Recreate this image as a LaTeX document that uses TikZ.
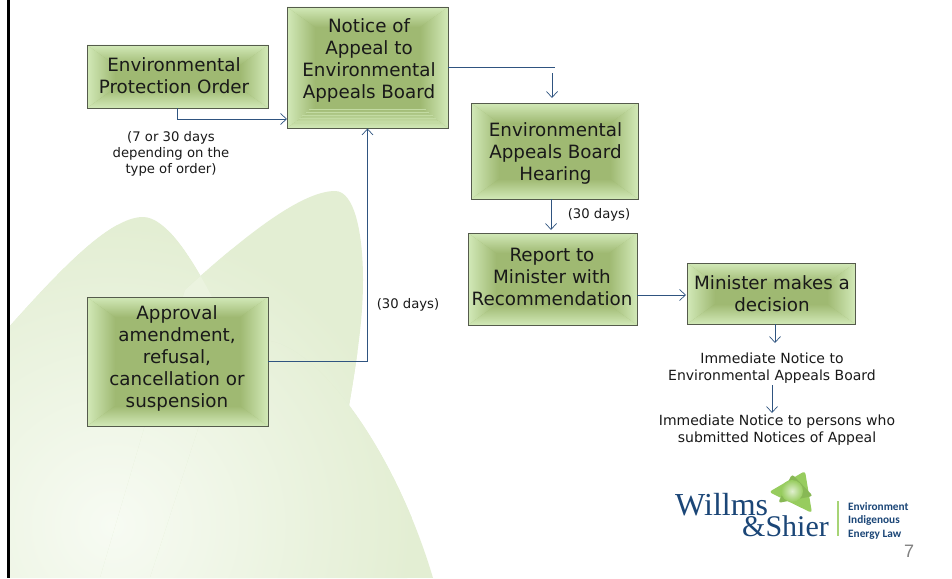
\documentclass[tikz,border=0pt]{standalone}
\usepackage{fontspec}
\setmainfont{DejaVu Sans}
\newfontfamily\logoserif{Liberation Serif}
\newfontfamily\logosans{Carlito}
\newfontfamily\numfont{Liberation Sans}
\usetikzlibrary{arrows.meta,calc}
\definecolor{boxmid}{HTML}{9FB972}
\definecolor{boxedge}{HTML}{D2E9B8}
\definecolor{boxline}{HTML}{555B4C}
\definecolor{conn}{HTML}{2F5480}
\definecolor{leafout}{HTML}{E3EED3}
\definecolor{leafin}{HTML}{F7FBF3}
\definecolor{navy}{HTML}{1B4677}
\definecolor{leafgreen}{HTML}{97CC5E}
\tikzset{
  boxshape/.style={draw=boxline,line width=0.9pt,inner sep=0pt},
  boxtext/.style={align=center,inner sep=0pt,text=black!90,font=\fontsize{18.3}{22}\selectfont},
  smalltext/.style={align=center,inner sep=0pt,text=black!90,font=\fontsize{13.2}{16}\selectfont},
  noticetext/.style={align=center,inner sep=0pt,text=black!90,font=\fontsize{14}{17}\selectfont},
  conline/.style={draw=conn,line width=0.9pt},
  conarrow/.style={conline,-{Straight Barb[length=6pt,width=11pt,line width=0.7pt]}},
  logotag/.style={inner sep=0pt,anchor=base west,text=navy,font=\logosans\bfseries\fontsize{11.3}{12}\selectfont},
}
\newcommand{\gbox}[8]{%
  \def\dx{28}\def\dy{20}%
  \fill[boxmid] (#2,#3) rectangle (#4,#5);
  \shade[left color=boxedge,right color=boxmid] (#2,#3) -- ({#2+\dx},{#3+\dy}) -- ({#2+\dx},{#5-\dy}) -- (#2,#5) -- cycle;
  \shade[left color=boxmid,right color=boxedge] (#4,#3) -- ({#4-\dx},{#3+\dy}) -- ({#4-\dx},{#5-\dy}) -- (#4,#5) -- cycle;
  \shade[top color=boxmid,bottom color=boxedge] (#2,#5) -- ({#2+\dx},{#5-\dy}) -- ({#4-\dx},{#5-\dy}) -- (#4,#5) -- cycle;
  \shade[top color=boxedge,bottom color=boxmid] (#2,#3) -- ({#2+\dx},{#3+\dy}) -- ({#4-\dx},{#3+\dy}) -- (#4,#3) -- cycle;
  \node[boxshape,minimum width={(#4-#2)*1pt},minimum height={(#5-#3)*1pt}] (#1) at ({(#2+#4)/2},{(#3+#5)/2}) {};
  \node[boxtext] (#1-text) at (#6,#7) {#8};
}
\def\leafA{(9,327) .. controls (60,270) and (110,217) .. (143,217) .. controls (165,217) and (190,255) .. (212,297) .. controls (240,350) and (250,420) .. (250,578) -- (9,578) -- cycle}
\def\leafB{(185,290) .. controls (240,240) and (300,191) .. (335,191) .. controls (355,191) and (363,235) .. (363,280) .. controls (363,340) and (350,400) .. (318,578) -- (100,578) -- cycle}
\def\leafC{(230,330) .. controls (250,338) and (260,340) .. (270,341) .. controls (320,350) and (395,450) .. (433,578) -- (150,578) -- cycle}
\begin{document}
\begin{tikzpicture}[x=1pt,y=-1pt]
\useasboundingbox (0,0) rectangle (952,578);
\fill[white] (0,0) rectangle (952,578);
% background leaves
\foreach \leaf in {\leafA,\leafB,\leafC}{
  \begin{scope}
    \expandafter\clip\leaf;
    \fill[leafout] (0,150) rectangle (450,578);
    \shade[inner color=leafin,outer color=leafout] (112,525) circle (300);
  \end{scope}
}
\begin{scope}
  \clip (100,200) rectangle (268,400);
  \expandafter\clip\leafA;
  \fill[white,opacity=.2] \leafB;
\end{scope}
\fill[black] (7.4,0) rectangle (10,578);
% boxes
\gbox{epo}{87}{45}{268}{108}{174}{76}{Environmental\\Protection Order}
\gbox{notice}{287}{7}{448}{128}{369}{60}{Notice of\\Appeal to\\Environmental\\Appeals Board}
\foreach \yy/\inset in {109/22,112/19,115/15,118/12,121/9,123/5}
  \draw[boxedge!70!boxmid,line width=0.8pt] ({287+\inset},\yy) -- ({448-\inset},\yy);
\gbox{hearing}{471}{103}{638}{199}{555.5}{153}{Environmental\\Appeals Board\\Hearing}
\gbox{report}{468}{233}{637}{325}{552}{277}{Report to\\Minister with\\Recommendation}
\gbox{minister}{687}{263}{855}{324}{772}{294}{Minister makes a\\decision}
\gbox{approval}{87}{297}{268}{426}{177}{358.5}{Approval\\amendment,\\refusal,\\cancellation or\\suspension}
% small labels
\node[smalltext] (n7) at (171,154) {(7 or 30 days\\depending on the\\type of order)};
\node[smalltext] (n30a) at (408,305) {(30 days)};
\node[smalltext] (n30b) at (599,215) {(30 days)};
\node[noticetext] (imm1) at (772,368) {Immediate Notice to\\Environmental Appeals Board};
\node[noticetext] (imm2) at (777,430) {Immediate Notice to persons who\\submitted Notices of Appeal};
% connectors
\coordinate (epoIn) at (287,119);
\coordinate (noticeEnd) at (555,67.5);
\coordinate (hearStart) at (552,73);
\coordinate (hearIn) at (552,98);
\coordinate (repStart) at (551,199);
\coordinate (repIn) at (551,230);
\coordinate (minIn) at (686,295);
\coordinate (minOut) at (775,324);
\coordinate (imm1In) at (775,343);
\coordinate (immA) at (772,385);
\coordinate (immB) at (772,413);
\draw[conarrow] (epo.south) |- (epoIn);
\draw[conarrow] (approval.east) -| (notice.south);
\draw[conline] (notice.east) -- (noticeEnd);
\draw[conarrow] (hearStart) -- (hearIn);
\draw[conarrow] (repStart) -- (repIn);
\draw[conarrow] (report.east |- minIn) -- (minIn);
\draw[conarrow] (minOut) -- (imm1In);
\draw[conarrow] (immA) -- (immB);
% logo
\begin{scope}
  \fill[leafgreen,rounded corners=3pt] (805,471) -- (769,492) -- (812,513) -- cycle;
  \fill[leafgreen!90!black,rounded corners=3pt] (792,474) -- (813,496) -- (778,503) -- cycle;
  \shade[inner color=white!70!leafgreen,outer color=leafgreen] (792,491) circle (11);
\end{scope}
\node[inner sep=0pt,anchor=base west,text=navy,font=\logoserif\fontsize{32}{32}\selectfont] (willms) at (675,515) {Willms};
\node[inner sep=0pt,anchor=base west,text=navy,font=\logoserif\fontsize{30}{30}\selectfont] (shier) at (742,536) {\&Shier};
\fill[leafgreen!85!white] (837.4,501) rectangle (838.8,536);
\node[logotag] (l1) at (848,510) {Environment};
\node[logotag] (l2) at (848,523.5) {Indigenous};
\node[logotag] (l3) at (848,537) {Energy Law};
\node[inner sep=0pt,anchor=base west,text=black!50,font=\numfont\fontsize{18}{18}\selectfont] (pg) at (904,557) {7};
\end{tikzpicture}
\end{document}
